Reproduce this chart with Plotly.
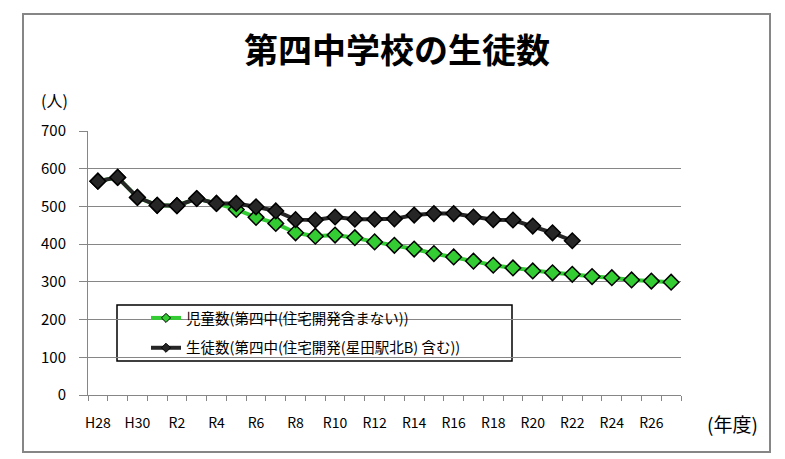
import plotly.graph_objects as go

years = ["H28", "H29", "H30"] + [f"R{i}" for i in range(1, 28)]
jido = [567, 577, 524, 503, 502, 521, 508, 492, 471, 455, 430, 421, 424, 417, 406,
        397, 387, 375, 366, 355, 344, 337, 329, 324, 320, 314, 311, 305, 302, 299]
seito = [567, 577, 524, 503, 502, 521, 508, 508, 499, 488, 465, 464, 472, 466, 466,
         467, 477, 481, 481, 472, 465, 464, 448, 430, 409] + [None] * 5
name_jido = "児童数(第四中(住宅開発含まない))"
name_seito = "生徒数(第四中(住宅開発(星田駅北B) 含む))"
yticks = [0, 100, 200, 300, 400, 500, 600, 700]

FONT = "Noto Sans CJK JP"
xs = list(range(len(years)))
GREEN = "#33CC33"
DARK = "#262626"

fig = go.Figure()
for name, vals, col in [(name_jido, jido, GREEN), (name_seito, seito, DARK)]:
    fig.add_trace(go.Scatter(
        x=xs, y=vals, name=name, mode="lines+markers", showlegend=False,
        line=dict(color=col, width=4),
        marker=dict(symbol="diamond", size=12, color=col,
                    line=dict(color="#000000", width=1.5)),
    ))
for name, col, grp in [(name_jido, GREEN, "a"), (name_seito, DARK, "b")]:
    fig.add_trace(go.Scatter(
        x=[None], y=[None], name=name, mode="lines+markers", legendgroup=grp,
        line=dict(color=col, width=4),
        marker=dict(symbol="diamond", size=7, color=col,
                    line=dict(color="#000000", width=1)),
    ))

L, R, T, B = 88, 104, 131, 64
W, H = 785, 459
pw, ph = W - L - R, H - T - B

def px(x):
    return (x - L) / pw

def py(y):
    return (H - B - y) / ph

fig.update_layout(
    width=W, height=H,
    margin=dict(l=L, r=R, t=T, b=B),
    paper_bgcolor="white", plot_bgcolor="white",
    font=dict(family=FONT, color="#000000", size=14),
    title=dict(text="<b>第四中学校の生徒数</b>", x=397 / W, xanchor="center",
               y=1 - 51 / H, yanchor="middle", yref="container",
               font=dict(size=34, family=FONT, color="#000000")),
    showlegend=True,
    legend=dict(x=px(146), y=py(302), xanchor="left", yanchor="top",
                bgcolor="rgba(0,0,0,0)", borderwidth=0,
                traceorder="grouped", tracegroupgap=8,
                font=dict(size=14.5, family=FONT, color="#000000")),
    xaxis=dict(
        range=[-0.5, len(years) - 0.5],
        tickvals=xs[::2], ticktext=years[::2],
        ticks="", showgrid=False, zeroline=False,
        showline=True, linecolor="#868686", linewidth=1,
        tickfont=dict(size=14, family=FONT, color="#000000"),
        ticklabelstandoff=15,
        minor=dict(ticks="outside", tick0=-0.5, dtick=1, ticklen=5,
                   tickcolor="#868686", tickwidth=1, showgrid=False),
    ),
    yaxis=dict(
        range=[0, 700], tickvals=yticks,
        showgrid=True, gridcolor="#868686", gridwidth=1,
        zeroline=False, showline=True, linecolor="#868686", linewidth=1,
        ticks="outside", ticklen=8, tickcolor="#868686",
        tickfont=dict(size=15, family=FONT, color="#000000"),
        ticklabelstandoff=10,
    ),
    shapes=[
        dict(type="rect", xref="paper", yref="paper",
             x0=px(117), x1=px(512), y0=py(361), y1=py(305),
             line=dict(color="#000000", width=1.5), fillcolor="white", layer="below"),
        dict(type="rect", xref="paper", yref="paper",
             x0=px(23), x1=px(770), y0=py(452), y1=py(14),
             line=dict(color="#868686", width=2), layer="below"),
    ],
    annotations=[
        dict(text="(人)", xref="paper", yref="paper", x=px(54), y=py(100),
             showarrow=False, xanchor="center", yanchor="middle",
             font=dict(size=16, family=FONT, color="#000000")),
        dict(text="(年度)", xref="paper", yref="paper", x=px(732), y=py(423),
             showarrow=False, xanchor="center", yanchor="middle",
             font=dict(size=19, family=FONT, color="#000000")),
    ],
)

fig.write_html("out.html", config={"displayModeBar": False},
               post_script="document.body.style.margin='0';document.body.style.overflow='hidden';")
